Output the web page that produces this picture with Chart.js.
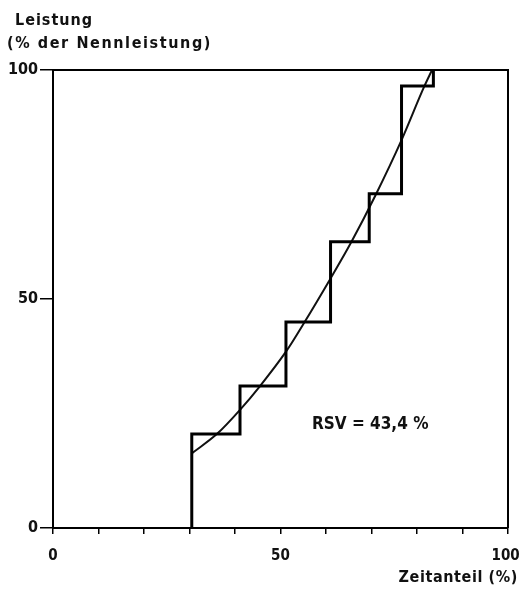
<!DOCTYPE html>
<html>
<head>
<meta charset="utf-8">
<script src="https://cdn.jsdelivr.net/npm/chart.js@4"></script>
<style>
html,body{margin:0;padding:0;background:#fff;}
#wrap{width:519px;height:590px;}
</style>
</head>
<body>
<div id="wrap"><canvas id="c" width="519" height="590"></canvas></div>
<script>
// Step (load duration) data
const stepX = [30.5, 30.5, 41.1, 51.2, 61.0, 69.5, 76.6, 83.6];
const stepY = [0, 20.5, 31, 45, 62.5, 73, 96.5, 100];
// Smooth fitted curve
const curveX = [30.5, 36, 41.1, 45.5, 51.2, 55, 61, 65.6, 70.8, 76.6, 81.5, 83.3];
const curveY = [16.3, 20.5, 25.8, 31, 38.5, 44.5, 54.5, 62.5, 72.5, 84.7, 96.2, 100];
const xTickLabels = [0, 50, 100];
const yTickLabels = [0, 50, 100];
const yTitle1 = "Leistung";
const yTitle2 = "(% der Nennleistung)";
const xTitle = "Zeitanteil (%)";
const note = "RSV = 43,4 %";

const FONT = '"DejaVu Sans Condensed", "DejaVu Sans", sans-serif';

const textPlugin = {
  id: 'texts',
  afterDraw(chart) {
    const ctx = chart.ctx;
    const a = chart.chartArea;
    ctx.save();
    // top and right frame
    ctx.strokeStyle = '#000';
    ctx.lineWidth = 2;
    ctx.beginPath();
    ctx.moveTo(a.left, a.top);
    ctx.lineTo(a.right, a.top);
    ctx.lineTo(a.right, a.bottom);
    ctx.stroke();
    ctx.fillStyle = '#111';
    ctx.textBaseline = 'middle';
    ctx.font = 'bold 16px ' + FONT;
    ctx.letterSpacing = '1px';
    ctx.textAlign = 'left';
    ctx.fillText(yTitle1, 15, 21);
    ctx.letterSpacing = '1.6px';
    ctx.fillText(yTitle2, 7, 44);
    ctx.letterSpacing = '0.6px';
    ctx.textAlign = 'right';
    ctx.fillText(xTitle, 518, 578);
    ctx.textAlign = 'left';
    ctx.font = 'bold 17px ' + FONT;
    ctx.letterSpacing = '0px';
    ctx.fillText(note, 312, 425);
    ctx.restore();
  }
};

new Chart(document.getElementById('c'), {
  type: 'line',
  data: {
    datasets: [
      {
        data: stepX.map((x, i) => ({x: x, y: stepY[i]})),
        stepped: true,
        borderColor: '#000',
        borderWidth: 3,
        pointRadius: 0,
        fill: false
      },
      {
        data: curveX.map((x, i) => ({x: x, y: curveY[i]})),
        cubicInterpolationMode: 'monotone',
        borderColor: '#111',
        borderWidth: 2,
        pointRadius: 0,
        fill: false
      }
    ]
  },
  options: {
    responsive: false,
    animation: false,
    layout: {padding: {top: 70, right: 11, left: 0, bottom: 0}},
    plugins: {legend: {display: false}, tooltip: {enabled: false}},
    scales: {
      x: {
        type: 'linear', min: 0, max: 100,
        afterFit(s) { s.height = 62; s.paddingRight = 0; s.paddingLeft = 0; },
        border: {display: true, color: '#000', width: 2},
        grid: {drawOnChartArea: false, color: '#000', lineWidth: 1.5, tickLength: 6},
        ticks: {
          stepSize: 10, color: '#111', padding: 13, maxRotation: 0,
          font: {family: FONT, size: 15, weight: 'bold'},
          callback: v => xTickLabels.includes(v) ? (v === 100 ? '100 ' : String(v)) : ''
        }
      },
      y: {
        type: 'linear', min: 0, max: 100,
        afterFit(s) { s.width = 53; s.paddingTop = 0; s.paddingBottom = 0; },
        border: {display: true, color: '#000', width: 2},
        grid: {drawOnChartArea: false, color: '#000', lineWidth: 1.5, tickLength: 13},
        ticks: {
          stepSize: 50, color: '#111', padding: 2,
          font: {family: FONT, size: 16, weight: 'bold'},
          callback: v => yTickLabels.includes(v) ? String(v) : ''
        }
      }
    }
  },
  plugins: [textPlugin]
});
</script>
</body>
</html>
